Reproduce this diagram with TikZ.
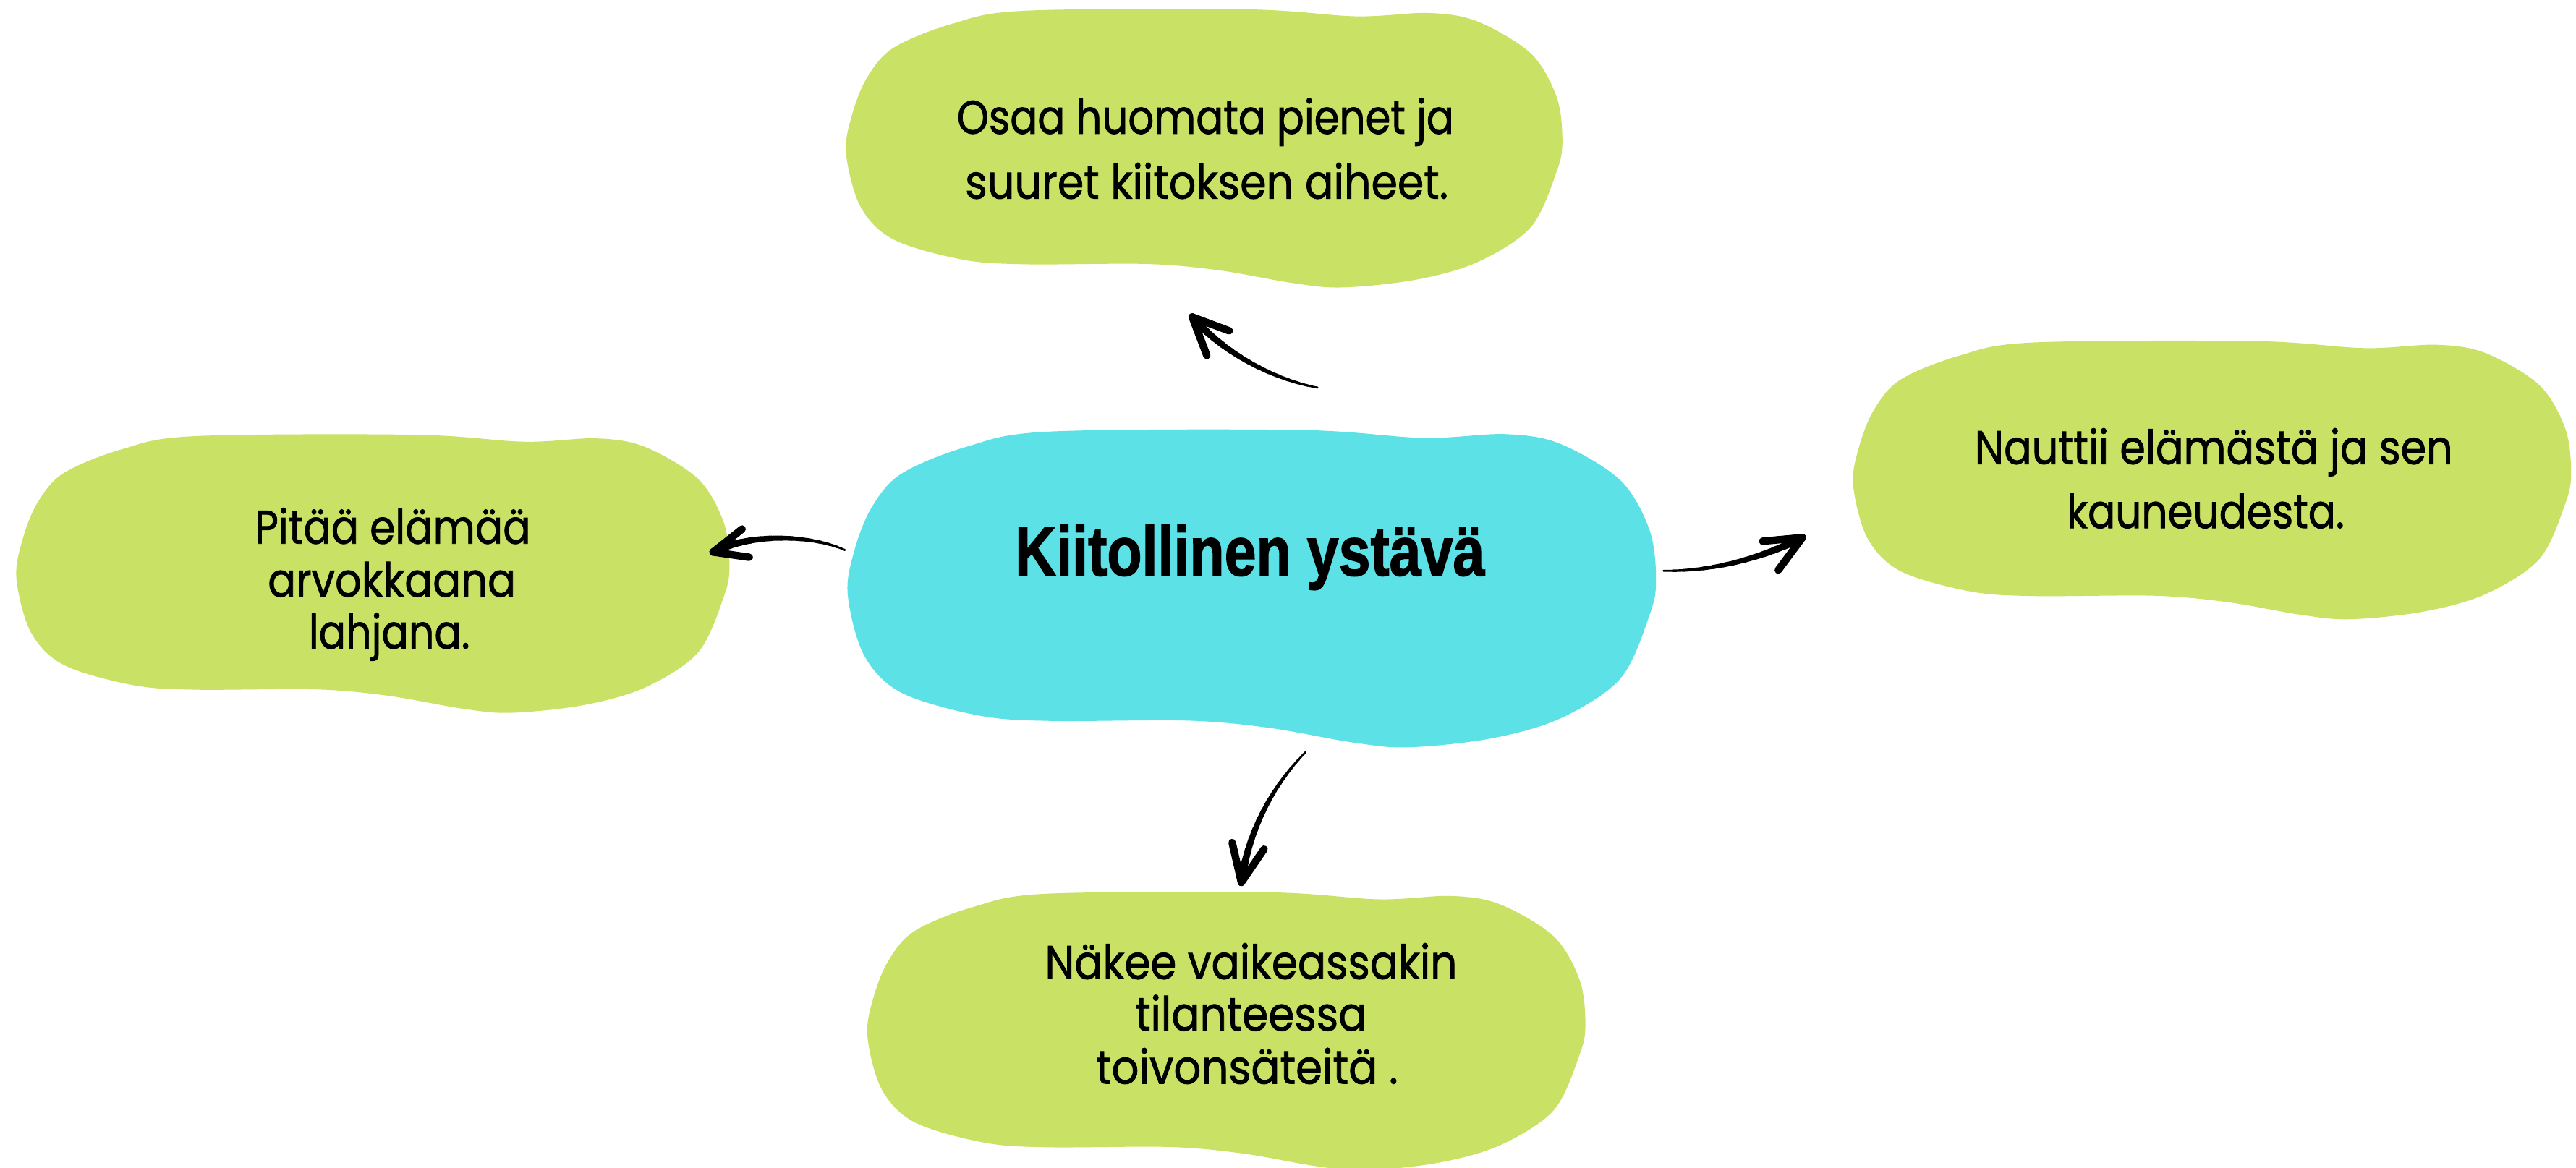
\documentclass[tikz,border=0pt]{standalone}
\usepackage{fontspec}
\usepackage{graphicx}
\newfontfamily\greenfont{Poppins}[UprightFeatures={FakeBold=1.3}]
\newfontfamily\titlefont{Liberation Sans}[BoldFeatures={FakeBold=1.6}]
\definecolor{blobgreen}{HTML}{C9E265}
\definecolor{blobcyan}{HTML}{5CE1E6}
\newcommand\gH{0.574cm}
\newcommand\gline[2]{\resizebox{#1}{\gH}{\greenfont\fontsize{20pt}{24pt}\selectfont\rule{0pt}{20pt}#2}}
\newcommand\tline[2]{\resizebox{#1}{0.849cm}{\titlefont\bfseries\fontsize{20pt}{24pt}\selectfont\rule{0pt}{20pt}#2}}
\newcommand\drawblob[5]{%
  \begin{scope}[shift={(#1,#2)},xscale=#3,yscale=#4]
    \fill[#5] plot[smooth cycle, tension=0.55] coordinates {
      (0.148,0.056) (0.25,0.009) (0.56,0.004) (0.712,0.029) (0.813,0.017)
      (0.881,0.047) (0.956,0.162) (0.992,0.318) (1.0,0.475) (0.992,0.585)
      (0.956,0.784) (0.881,0.910) (0.794,0.973) (0.692,1.0) (0.623,0.984)
      (0.522,0.939) (0.42,0.916) (0.25,0.917) (0.162,0.9) (0.066,0.828)
      (0.02,0.71) (0.0,0.52) (0.008,0.385) (0.029,0.25) (0.066,0.142)};
  \end{scope}}
% tapered brush stroke along a cubic curve: thin at the start, thick at the end
\newcommand\taper[4]{%
  \foreach \i in {0,...,13}{%
    \pgfmathsetmacro\ta{\i/14}%
    \pgfmathsetmacro\tb{(\i+1)/14}%
    \pgfmathsetmacro\lw{0.7+0.15*\i}%
    \pgfsetlinewidth{\lw pt}\pgfsetroundcap\pgfsetstrokecolor{black}%
    \pgfpathcurvebetweentime{\ta}{\tb}{#1}{#2}{#3}{#4}%
    \pgfusepath{stroke}}}
\tikzset{
  txt/.style={anchor=base, inner sep=0pt, outer sep=0pt},
  barb/.style={line width=2.6pt, line cap=round, black}
}
\begin{document}
\begin{tikzpicture}[x=0.02cm, y=-0.02cm]
\useasboundingbox (0,0) rectangle (1568,710.7);
\fill[white] (0,0) rectangle (1568,710.7);

% blobs
\drawblob{515}{5}{436}{170}{blobgreen}
\drawblob{516}{261}{492}{194}{blobcyan}
\drawblob{10}{264}{434}{170}{blobgreen}
\drawblob{1128}{207}{437}{170}{blobgreen}
\drawblob{528}{542.6}{437}{170}{blobgreen}

% texts
\node[txt] (tCenter) at (760.8,350.4) {\tline{5.72cm}{Kiitollinen ystävä}};

\node[txt] (tTop1) at (733.7,81.4) {\gline{6.052cm}{Osaa huomata pienet ja}};
\node[txt] (tTop2) at (734.5,120.9) {\gline{5.882cm}{suuret kiitoksen aiheet.}};

\node[txt] (tLeft1) at (239,331) {\gline{3.36cm}{Pitää elämää}};
\node[txt] (tLeft2) at (238.5,363.3) {\gline{3.02cm}{arvokkaana}};
\node[txt] (tLeft3) at (237,394.9) {\gline{1.96cm}{lahjana.}};

\node[txt] (tRight1) at (1347.5,282.5) {\gline{5.82cm}{Nauttii elämästä ja sen}};
\node[txt] (tRight2) at (1342.5,321.5) {\gline{3.38cm}{kauneudesta.}};

\node[txt] (tBottom1) at (761.5,596) {\gline{5.02cm}{Näkee vaikeassakin}};
\node[txt] (tBottom2) at (761.5,627.5) {\gline{2.82cm}{tilanteessa}};
\node[txt] (tBottom3) at (759,659.8) {\gline{3.68cm}{toivonsäteitä .}};

% arrow end points
\coordinate (aLs) at (514.3,334.9);
\coordinate (aLe) at (434.1,336.1);
\coordinate (aRs) at (1012.5,347.5);
\coordinate (aRe) at (1097.1,327.3);
\coordinate (aTs) at (802,236);
\coordinate (aTe) at (725.7,193);
\coordinate (aBs) at (794.7,457.9);
\coordinate (aBe) at (755.6,537.2);

% left arrow
\taper{\pgfpointanchor{aLs}{center}}{\pgfpointxy{495}{326}}{\pgfpointxy{458}{324}}{\pgfpointanchor{aLe}{center}}
\draw[barb] (aLe) -- ++(17.6,-14);
\draw[barb] (aLe) -- ++(22,3.2);
% right arrow
\taper{\pgfpointanchor{aRs}{center}}{\pgfpointxy{1040}{348}}{\pgfpointxy{1070}{341}}{\pgfpointanchor{aRe}{center}}
\draw[barb] (aRe) -- ++(-24.2,2.2);
\draw[barb] (aRe) -- ++(-14.7,19.8);
% top arrow
\taper{\pgfpointanchor{aTs}{center}}{\pgfpointxy{775}{231}}{\pgfpointxy{745}{215}}{\pgfpointanchor{aTe}{center}}
\draw[barb] (aTe) -- ++(8.9,23.4);
\draw[barb] (aTe) -- ++(22.5,8.4);
% bottom arrow
\taper{\pgfpointanchor{aBs}{center}}{\pgfpointxy{775}{478}}{\pgfpointxy{760}{505}}{\pgfpointanchor{aBe}{center}}
\draw[barb] (aBe) -- ++(-5.6,-24.2);
\draw[barb] (aBe) -- ++(13.8,-20.2);
\end{tikzpicture}
\end{document}
